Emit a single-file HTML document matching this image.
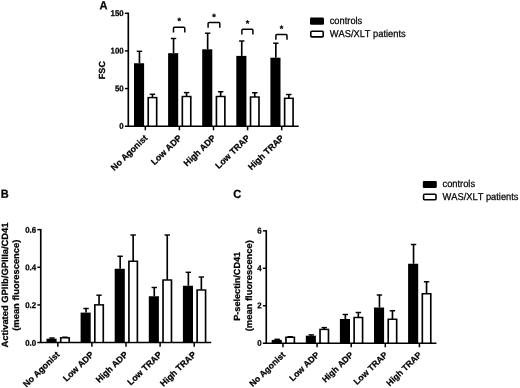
<!DOCTYPE html>
<html><head><meta charset="utf-8"><title>Figure</title>
<style>
html,body{margin:0;padding:0;background:#fff;}
body{width:520px;height:388px;overflow:hidden;}
svg{display:block;filter:blur(0.3px);font-family:"Liberation Sans",sans-serif;fill:#000;}
svg text{fill:#000;text-rendering:geometricPrecision;font-kerning:none;stroke:#000;stroke-width:0.25px;}
svg text.r{stroke-width:0.25px;}
</style></head><body>
<svg width="520" height="388" viewBox="0 0 520 388">
<rect width="520" height="388" fill="#fff"/>
<path d="M128.30 12.57V126.20" stroke="#000" stroke-width="1.65" fill="none"/>
<path d="M124.90 126.20H298.75" stroke="#000" stroke-width="1.45" fill="none"/>
<text transform="translate(123.70 128.80) rotate(0.1) scale(0.95 1)" text-anchor="end" font-size="8.3" font-weight="bold">0</text>
<path d="M124.90 88.57H128.30" stroke="#000" stroke-width="1.45"/>
<text transform="translate(123.70 91.17) rotate(0.1) scale(0.95 1)" text-anchor="end" font-size="8.3" font-weight="bold">50</text>
<path d="M124.90 50.93H128.30" stroke="#000" stroke-width="1.45"/>
<text transform="translate(123.70 53.53) rotate(0.1) scale(0.95 1)" text-anchor="end" font-size="8.3" font-weight="bold">100</text>
<path d="M124.90 13.30H128.30" stroke="#000" stroke-width="1.45"/>
<text transform="translate(123.70 15.90) rotate(0.1) scale(0.95 1)" text-anchor="end" font-size="8.3" font-weight="bold">150</text>
<path d="M145.30 126.20v4.1" stroke="#000" stroke-width="1.5"/>
<path d="M139.45 63.25V51.30" stroke="#000" stroke-width="1.65" fill="none"/><path d="M136.75 51.30h5.4" stroke="#000" stroke-width="1.45" fill="none"/>
<rect x="134.00" y="63.25" width="10.10" height="62.95" fill="#000"/>
<path d="M152.45 97.60V94.30" stroke="#000" stroke-width="1.65" fill="none"/><path d="M149.75 94.30h5.4" stroke="#000" stroke-width="1.45" fill="none"/>
<rect x="147.40" y="96.88" width="10.10" height="29.33" fill="#000"/><rect x="149.05" y="98.32" width="6.80" height="27.15" fill="#fff"/>
<path d="M179.40 126.20v4.1" stroke="#000" stroke-width="1.5"/>
<path d="M173.55 53.20V38.50" stroke="#000" stroke-width="1.65" fill="none"/><path d="M170.85 38.50h5.4" stroke="#000" stroke-width="1.45" fill="none"/>
<rect x="168.10" y="53.20" width="10.10" height="73.00" fill="#000"/>
<path d="M186.55 96.50V92.60" stroke="#000" stroke-width="1.65" fill="none"/><path d="M183.85 92.60h5.4" stroke="#000" stroke-width="1.45" fill="none"/>
<rect x="181.50" y="95.78" width="10.10" height="30.43" fill="#000"/><rect x="183.15" y="97.22" width="6.80" height="28.25" fill="#fff"/>
<path d="M213.50 126.20v4.1" stroke="#000" stroke-width="1.5"/>
<path d="M207.65 49.30V33.20" stroke="#000" stroke-width="1.65" fill="none"/><path d="M204.95 33.20h5.4" stroke="#000" stroke-width="1.45" fill="none"/>
<rect x="202.20" y="49.30" width="10.10" height="76.90" fill="#000"/>
<path d="M220.65 96.50V91.75" stroke="#000" stroke-width="1.65" fill="none"/><path d="M217.95 91.75h5.4" stroke="#000" stroke-width="1.45" fill="none"/>
<rect x="215.60" y="95.78" width="10.10" height="30.43" fill="#000"/><rect x="217.25" y="97.22" width="6.80" height="28.25" fill="#fff"/>
<path d="M247.60 126.20v4.1" stroke="#000" stroke-width="1.5"/>
<path d="M241.75 55.90V41.00" stroke="#000" stroke-width="1.65" fill="none"/><path d="M239.05 41.00h5.4" stroke="#000" stroke-width="1.45" fill="none"/>
<rect x="236.30" y="55.90" width="10.10" height="70.30" fill="#000"/>
<path d="M254.75 97.00V92.75" stroke="#000" stroke-width="1.65" fill="none"/><path d="M252.05 92.75h5.4" stroke="#000" stroke-width="1.45" fill="none"/>
<rect x="249.70" y="96.28" width="10.10" height="29.93" fill="#000"/><rect x="251.35" y="97.72" width="6.80" height="27.75" fill="#fff"/>
<path d="M281.70 126.20v4.1" stroke="#000" stroke-width="1.5"/>
<path d="M275.85 57.70V43.20" stroke="#000" stroke-width="1.65" fill="none"/><path d="M273.15 43.20h5.4" stroke="#000" stroke-width="1.45" fill="none"/>
<rect x="270.40" y="57.70" width="10.10" height="68.50" fill="#000"/>
<path d="M288.85 98.30V94.50" stroke="#000" stroke-width="1.65" fill="none"/><path d="M286.15 94.50h5.4" stroke="#000" stroke-width="1.45" fill="none"/>
<rect x="283.80" y="97.58" width="10.10" height="28.63" fill="#000"/><rect x="285.45" y="99.02" width="6.80" height="26.45" fill="#fff"/>
<text transform="translate(148.10 138.60) rotate(-44)" text-anchor="end" font-size="8.8" font-weight="bold">No Agonist</text>
<text transform="translate(182.20 138.60) rotate(-44)" text-anchor="end" font-size="8.8" font-weight="bold">Low ADP</text>
<text transform="translate(216.30 138.60) rotate(-44)" text-anchor="end" font-size="8.8" font-weight="bold">High ADP</text>
<text transform="translate(250.40 138.60) rotate(-44)" text-anchor="end" font-size="8.8" font-weight="bold">Low TRAP</text>
<text transform="translate(284.50 138.60) rotate(-44)" text-anchor="end" font-size="8.8" font-weight="bold">High TRAP</text>
<path d="M40.75 228.93V342.55" stroke="#000" stroke-width="1.65" fill="none"/>
<path d="M37.35 342.55H211.25" stroke="#000" stroke-width="1.45" fill="none"/>
<text transform="translate(36.15 345.65) rotate(0.1) scale(0.95 1)" text-anchor="end" font-size="8.3" font-weight="bold">0.0</text>
<path d="M37.35 304.92H40.75" stroke="#000" stroke-width="1.45"/>
<text transform="translate(36.15 308.02) rotate(0.1) scale(0.95 1)" text-anchor="end" font-size="8.3" font-weight="bold">0.2</text>
<path d="M37.35 267.28H40.75" stroke="#000" stroke-width="1.45"/>
<text transform="translate(36.15 270.38) rotate(0.1) scale(0.95 1)" text-anchor="end" font-size="8.3" font-weight="bold">0.4</text>
<path d="M37.35 229.65H40.75" stroke="#000" stroke-width="1.45"/>
<text transform="translate(36.15 232.75) rotate(0.1) scale(0.95 1)" text-anchor="end" font-size="8.3" font-weight="bold">0.6</text>
<path d="M57.80 342.55v4.1" stroke="#000" stroke-width="1.5"/>
<path d="M51.95 338.70V338.00" stroke="#000" stroke-width="1.65" fill="none"/><path d="M49.25 338.00h5.4" stroke="#000" stroke-width="1.45" fill="none"/>
<rect x="46.50" y="338.70" width="10.10" height="3.85" fill="#000"/>
<path d="M64.95 337.80V337.20" stroke="#000" stroke-width="1.65" fill="none"/><path d="M62.25 337.20h5.4" stroke="#000" stroke-width="1.45" fill="none"/>
<rect x="59.90" y="337.07" width="10.10" height="5.47" fill="#000"/><rect x="61.55" y="338.53" width="6.80" height="3.30" fill="#fff"/>
<path d="M91.90 342.55v4.1" stroke="#000" stroke-width="1.5"/>
<path d="M86.05 312.60V308.50" stroke="#000" stroke-width="1.65" fill="none"/><path d="M83.35 308.50h5.4" stroke="#000" stroke-width="1.45" fill="none"/>
<rect x="80.60" y="312.60" width="10.10" height="29.95" fill="#000"/>
<path d="M99.05 304.85V295.20" stroke="#000" stroke-width="1.65" fill="none"/><path d="M96.35 295.20h5.4" stroke="#000" stroke-width="1.45" fill="none"/>
<rect x="94.00" y="304.12" width="10.10" height="38.42" fill="#000"/><rect x="95.65" y="305.58" width="6.80" height="36.25" fill="#fff"/>
<path d="M126.00 342.55v4.1" stroke="#000" stroke-width="1.5"/>
<path d="M120.15 268.75V256.25" stroke="#000" stroke-width="1.65" fill="none"/><path d="M117.45 256.25h5.4" stroke="#000" stroke-width="1.45" fill="none"/>
<rect x="114.70" y="268.75" width="10.10" height="73.80" fill="#000"/>
<path d="M133.15 261.25V235.00" stroke="#000" stroke-width="1.65" fill="none"/><path d="M130.45 235.00h5.4" stroke="#000" stroke-width="1.45" fill="none"/>
<rect x="128.10" y="260.52" width="10.10" height="82.03" fill="#000"/><rect x="129.75" y="261.98" width="6.80" height="79.85" fill="#fff"/>
<path d="M160.10 342.55v4.1" stroke="#000" stroke-width="1.5"/>
<path d="M154.25 296.25V287.50" stroke="#000" stroke-width="1.65" fill="none"/><path d="M151.55 287.50h5.4" stroke="#000" stroke-width="1.45" fill="none"/>
<rect x="148.80" y="296.25" width="10.10" height="46.30" fill="#000"/>
<path d="M167.25 280.00V235.00" stroke="#000" stroke-width="1.65" fill="none"/><path d="M164.55 235.00h5.4" stroke="#000" stroke-width="1.45" fill="none"/>
<rect x="162.20" y="279.27" width="10.10" height="63.28" fill="#000"/><rect x="163.85" y="280.73" width="6.80" height="61.10" fill="#fff"/>
<path d="M194.20 342.55v4.1" stroke="#000" stroke-width="1.5"/>
<path d="M188.35 285.75V272.30" stroke="#000" stroke-width="1.65" fill="none"/><path d="M185.65 272.30h5.4" stroke="#000" stroke-width="1.45" fill="none"/>
<rect x="182.90" y="285.75" width="10.10" height="56.80" fill="#000"/>
<path d="M201.35 290.00V277.00" stroke="#000" stroke-width="1.65" fill="none"/><path d="M198.65 277.00h5.4" stroke="#000" stroke-width="1.45" fill="none"/>
<rect x="196.30" y="289.27" width="10.10" height="53.28" fill="#000"/><rect x="197.95" y="290.73" width="6.80" height="51.10" fill="#fff"/>
<text transform="translate(60.20 355.15) rotate(-44)" text-anchor="end" font-size="8.8" font-weight="bold">No Agonist</text>
<text transform="translate(94.30 355.15) rotate(-44)" text-anchor="end" font-size="8.8" font-weight="bold">Low ADP</text>
<text transform="translate(128.40 355.15) rotate(-44)" text-anchor="end" font-size="8.8" font-weight="bold">High ADP</text>
<text transform="translate(162.50 355.15) rotate(-44)" text-anchor="end" font-size="8.8" font-weight="bold">Low TRAP</text>
<text transform="translate(196.60 355.15) rotate(-44)" text-anchor="end" font-size="8.8" font-weight="bold">High TRAP</text>
<path d="M266.25 230.12V343.20" stroke="#000" stroke-width="1.65" fill="none"/>
<path d="M262.85 343.20H436.45" stroke="#000" stroke-width="1.45" fill="none"/>
<text transform="translate(261.65 345.80) rotate(0.1) scale(0.95 1)" text-anchor="end" font-size="8.3" font-weight="bold">0</text>
<path d="M262.85 305.75H266.25" stroke="#000" stroke-width="1.45"/>
<text transform="translate(261.65 308.35) rotate(0.1) scale(0.95 1)" text-anchor="end" font-size="8.3" font-weight="bold">2</text>
<path d="M262.85 268.30H266.25" stroke="#000" stroke-width="1.45"/>
<text transform="translate(261.65 270.90) rotate(0.1) scale(0.95 1)" text-anchor="end" font-size="8.3" font-weight="bold">4</text>
<path d="M262.85 230.85H266.25" stroke="#000" stroke-width="1.45"/>
<text transform="translate(261.65 233.45) rotate(0.1) scale(0.95 1)" text-anchor="end" font-size="8.3" font-weight="bold">6</text>
<path d="M283.00 343.20v4.1" stroke="#000" stroke-width="1.5"/>
<path d="M277.15 339.90V339.30" stroke="#000" stroke-width="1.65" fill="none"/><path d="M274.45 339.30h5.4" stroke="#000" stroke-width="1.45" fill="none"/>
<rect x="271.70" y="339.90" width="10.10" height="3.30" fill="#000"/>
<path d="M290.15 337.30V336.70" stroke="#000" stroke-width="1.65" fill="none"/><path d="M287.45 336.70h5.4" stroke="#000" stroke-width="1.45" fill="none"/>
<rect x="285.10" y="336.57" width="10.10" height="6.62" fill="#000"/><rect x="286.75" y="338.03" width="6.80" height="4.45" fill="#fff"/>
<path d="M317.10 343.20v4.1" stroke="#000" stroke-width="1.5"/>
<path d="M311.25 335.70V334.90" stroke="#000" stroke-width="1.65" fill="none"/><path d="M308.55 334.90h5.4" stroke="#000" stroke-width="1.45" fill="none"/>
<rect x="305.80" y="335.70" width="10.10" height="7.50" fill="#000"/>
<path d="M324.25 329.40V327.60" stroke="#000" stroke-width="1.65" fill="none"/><path d="M321.55 327.60h5.4" stroke="#000" stroke-width="1.45" fill="none"/>
<rect x="319.20" y="328.67" width="10.10" height="14.53" fill="#000"/><rect x="320.85" y="330.12" width="6.80" height="12.35" fill="#fff"/>
<path d="M351.20 343.20v4.1" stroke="#000" stroke-width="1.5"/>
<path d="M345.35 319.00V314.50" stroke="#000" stroke-width="1.65" fill="none"/><path d="M342.65 314.50h5.4" stroke="#000" stroke-width="1.45" fill="none"/>
<rect x="339.90" y="319.00" width="10.10" height="24.20" fill="#000"/>
<path d="M358.35 317.50V312.50" stroke="#000" stroke-width="1.65" fill="none"/><path d="M355.65 312.50h5.4" stroke="#000" stroke-width="1.45" fill="none"/>
<rect x="353.30" y="316.77" width="10.10" height="26.42" fill="#000"/><rect x="354.95" y="318.23" width="6.80" height="24.25" fill="#fff"/>
<path d="M385.30 343.20v4.1" stroke="#000" stroke-width="1.5"/>
<path d="M379.45 307.50V295.00" stroke="#000" stroke-width="1.65" fill="none"/><path d="M376.75 295.00h5.4" stroke="#000" stroke-width="1.45" fill="none"/>
<rect x="374.00" y="307.50" width="10.10" height="35.70" fill="#000"/>
<path d="M392.45 319.25V310.75" stroke="#000" stroke-width="1.65" fill="none"/><path d="M389.75 310.75h5.4" stroke="#000" stroke-width="1.45" fill="none"/>
<rect x="387.40" y="318.52" width="10.10" height="24.67" fill="#000"/><rect x="389.05" y="319.98" width="6.80" height="22.50" fill="#fff"/>
<path d="M419.40 343.20v4.1" stroke="#000" stroke-width="1.5"/>
<path d="M413.55 263.75V244.50" stroke="#000" stroke-width="1.65" fill="none"/><path d="M410.85 244.50h5.4" stroke="#000" stroke-width="1.45" fill="none"/>
<rect x="408.10" y="263.75" width="10.10" height="79.45" fill="#000"/>
<path d="M426.55 293.75V281.75" stroke="#000" stroke-width="1.65" fill="none"/><path d="M423.85 281.75h5.4" stroke="#000" stroke-width="1.45" fill="none"/>
<rect x="421.50" y="293.02" width="10.10" height="50.17" fill="#000"/><rect x="423.15" y="294.48" width="6.80" height="48.00" fill="#fff"/>
<text transform="translate(285.80 355.40) rotate(-44)" text-anchor="end" font-size="8.65" font-weight="bold">No Agonist</text>
<text transform="translate(319.90 355.40) rotate(-44)" text-anchor="end" font-size="8.65" font-weight="bold">Low ADP</text>
<text transform="translate(354.00 355.40) rotate(-44)" text-anchor="end" font-size="8.65" font-weight="bold">High ADP</text>
<text transform="translate(388.10 355.40) rotate(-44)" text-anchor="end" font-size="8.65" font-weight="bold">Low TRAP</text>
<text transform="translate(422.20 355.40) rotate(-44)" text-anchor="end" font-size="8.65" font-weight="bold">High TRAP</text>
<rect x="310.00" y="17.50" width="14" height="7.2" rx="1.2" fill="#000"/>
<rect x="310.80" y="31.30" width="12.4" height="5.60" rx="0.9" fill="#fff" stroke="#000" stroke-width="1.6"/>
<text transform="translate(329.70 24.00) rotate(0.1) scale(0.93 1)" font-size="10" class="r">controls</text>
<text transform="translate(329.70 37.00) rotate(0.1) scale(0.93 1)" font-size="10" class="r">WAS/XLT patients</text>
<rect x="422.80" y="180.90" width="14" height="7.0" rx="1.2" fill="#000"/>
<rect x="423.60" y="194.30" width="12.4" height="5.40" rx="0.9" fill="#fff" stroke="#000" stroke-width="1.6"/>
<text transform="translate(442.50 187.00) rotate(0.1) scale(0.93 1)" font-size="10" class="r">controls</text>
<text transform="translate(442.50 200.00) rotate(0.1) scale(0.93 1)" font-size="10" class="r">WAS/XLT patients</text>
<path d="M173.50 32.50V28.20Q173.50 27.30 174.40 27.30H183.90Q184.80 27.30 184.80 28.20V32.50" stroke="#000" stroke-width="1.5" fill="none"/><text transform="translate(179.15 24.00) rotate(0.1)" text-anchor="middle" font-size="9" font-weight="bold">*</text>
<path d="M208.10 27.70V23.40Q208.10 22.50 209.00 22.50H218.90Q219.80 22.50 219.80 23.40V27.70" stroke="#000" stroke-width="1.5" fill="none"/><text transform="translate(213.95 20.00) rotate(0.1)" text-anchor="middle" font-size="9" font-weight="bold">*</text>
<path d="M241.90 34.50V30.20Q241.90 29.30 242.80 29.30H252.00Q252.90 29.30 252.90 30.20V34.50" stroke="#000" stroke-width="1.5" fill="none"/><text transform="translate(247.40 26.60) rotate(0.1)" text-anchor="middle" font-size="9" font-weight="bold">*</text>
<path d="M275.90 39.80V35.50Q275.90 34.60 276.80 34.60H286.10Q287.00 34.60 287.00 35.50V39.80" stroke="#000" stroke-width="1.5" fill="none"/><text transform="translate(281.45 31.80) rotate(0.1)" text-anchor="middle" font-size="9" font-weight="bold">*</text>
<text transform="translate(99.4 9.3) rotate(0.1) scale(0.94 1)" font-size="11.8" font-weight="bold">A</text>
<text transform="translate(0.75 197.8) rotate(0.1) scale(0.94 1)" font-size="11.7" font-weight="bold">B</text>
<text transform="translate(233.3 198.0) rotate(0.1) scale(0.94 1)" font-size="11.8" font-weight="bold">C</text>
<text transform="translate(105.0 70.1) rotate(-90) scale(1 0.97)" text-anchor="middle" font-size="9.1" font-weight="bold">FSC</text>
<text transform="translate(8.4 285.0) rotate(-90) scale(1 0.97)" text-anchor="middle" font-size="9.4" font-weight="bold">Activated GPIIb/GPIIIa/CD41</text>
<text transform="translate(19.3 285.2) rotate(-90) scale(1 0.97)" text-anchor="middle" font-size="9.4" font-weight="bold">(mean fluorescence)</text>
<text transform="translate(240.1 286.3) rotate(-90) scale(1 0.97)" text-anchor="middle" font-size="9.15" font-weight="bold">P-selectin/CD41</text>
<text transform="translate(252.1 285.7) rotate(-90) scale(1 0.97)" text-anchor="middle" font-size="9.4" font-weight="bold">(mean fluorescence)</text>
</svg>
</body></html>
